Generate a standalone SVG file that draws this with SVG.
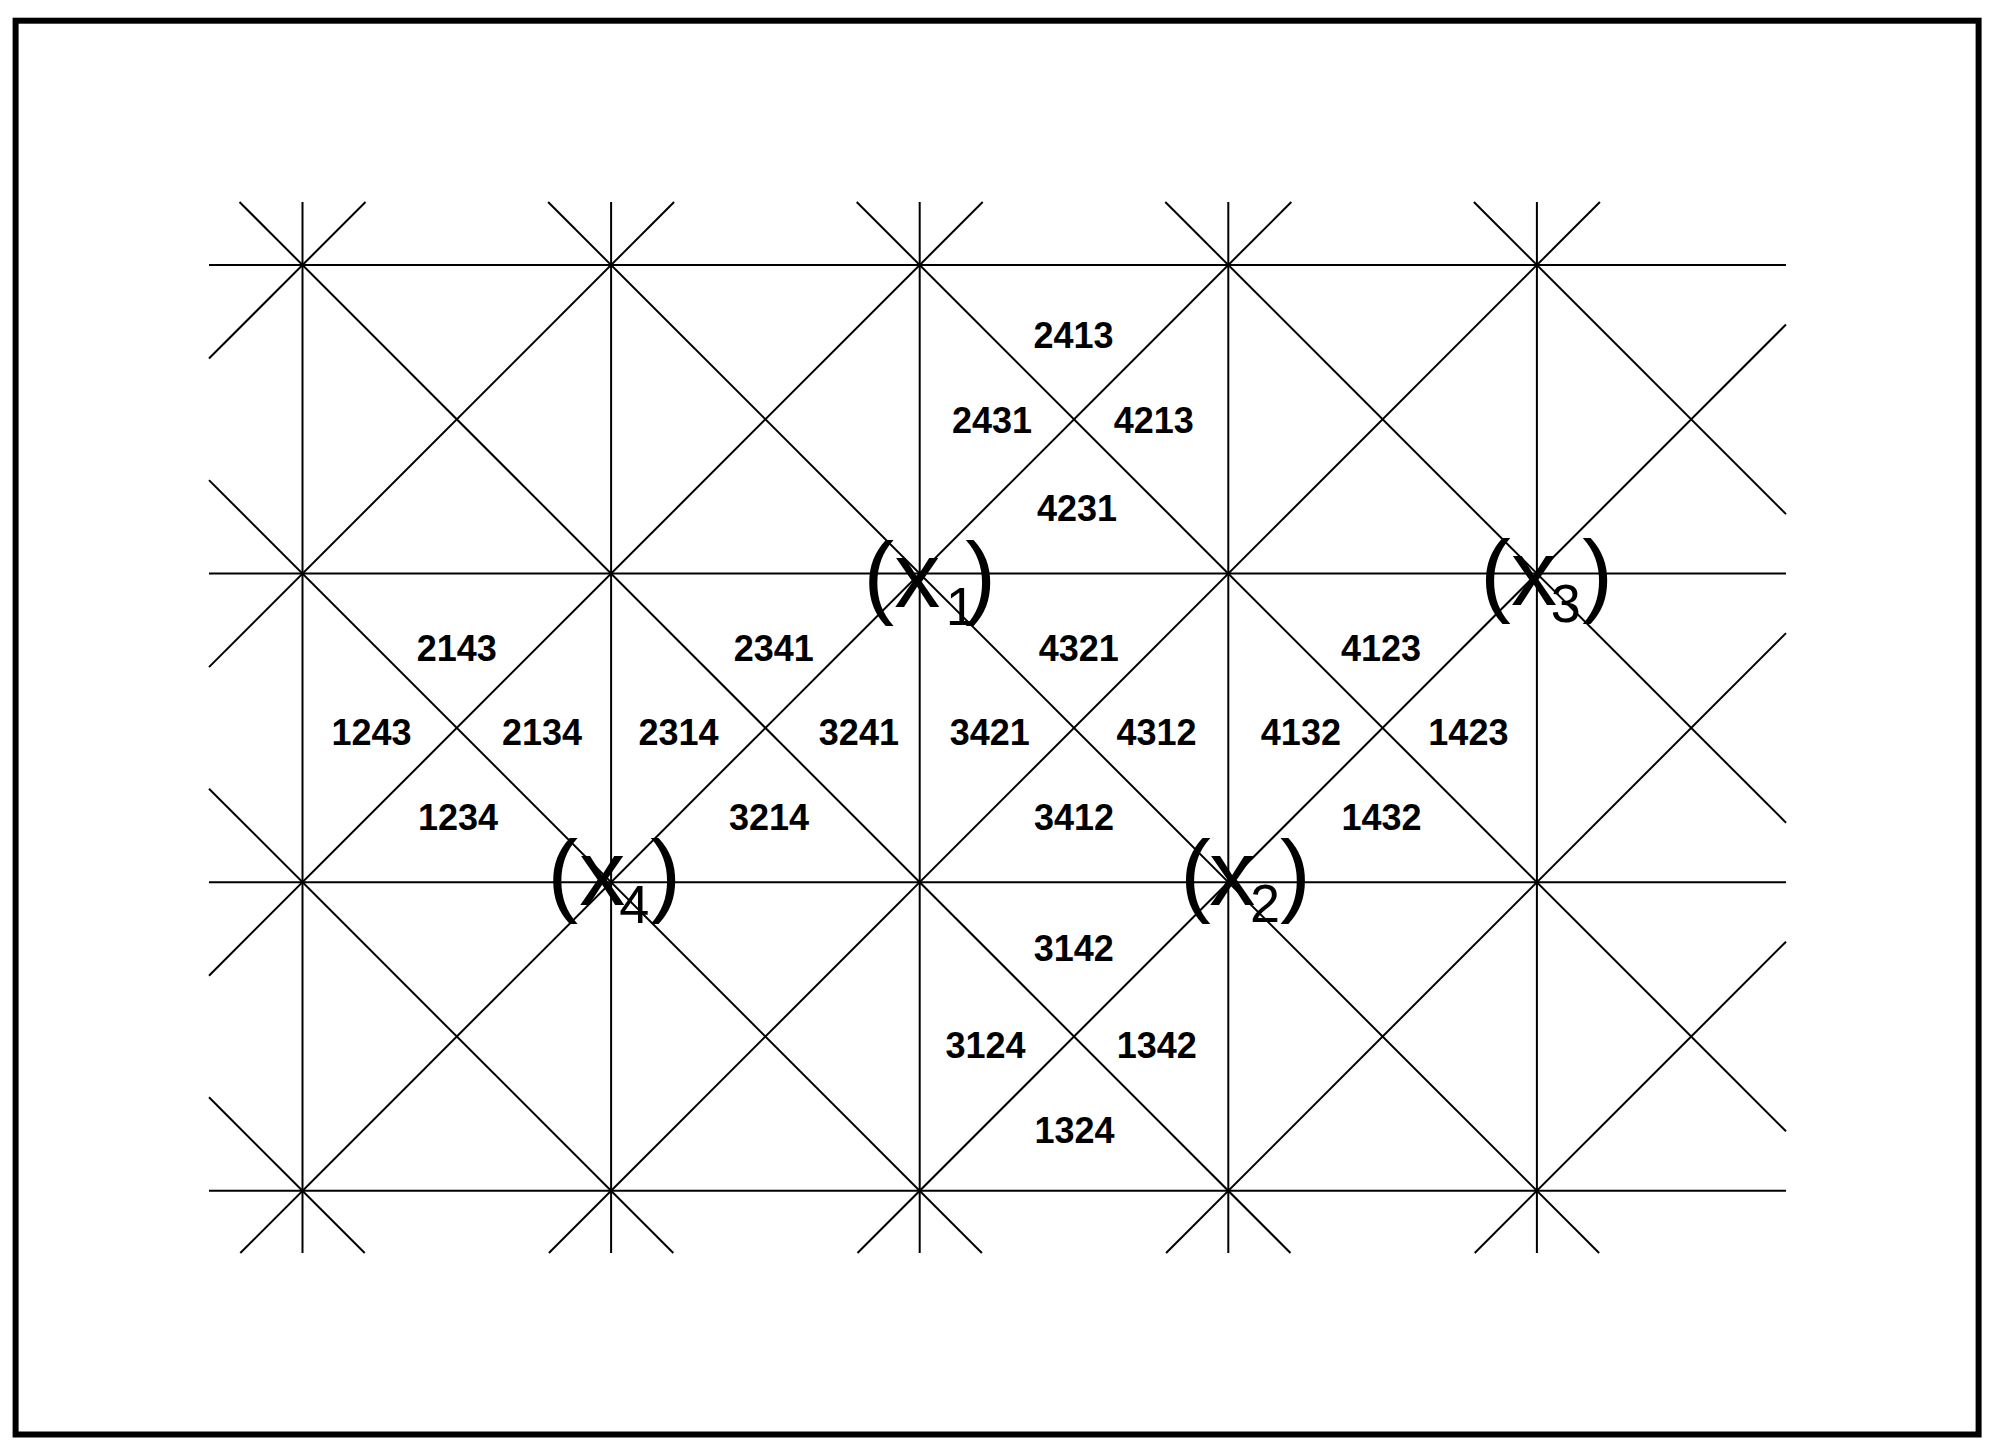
<svg xmlns="http://www.w3.org/2000/svg" width="1997" height="1456" viewBox="0 0 1997 1456">
<style>
.ln{stroke:#000;stroke-width:2;fill:none}
.lbl{font-family:"Liberation Sans",Arial,sans-serif;font-weight:bold;font-size:36px;text-anchor:middle;fill:#000}
.pt{font-family:"Liberation Sans",Arial,sans-serif;font-size:92px;fill:#000}
.sub{font-size:54px}
</style>
<rect x="0" y="0" width="1997" height="1456" fill="#fff"/>
<rect x="15.6" y="20.7" width="1963" height="1413.8" fill="none" stroke="#000" stroke-width="6"/>
<g id="connectors">
<line class="ln" x1="302.5" y1="202" x2="302.5" y2="1253"/>
<line class="ln" x1="611.1" y1="202" x2="611.1" y2="1253"/>
<line class="ln" x1="919.7" y1="202" x2="919.7" y2="1253"/>
<line class="ln" x1="1228.3" y1="202" x2="1228.3" y2="1253"/>
<line class="ln" x1="1536.9" y1="202" x2="1536.9" y2="1253"/>
<line class="ln" x1="209" y1="265" x2="1786" y2="265"/>
<line class="ln" x1="209" y1="573.6" x2="1786" y2="573.6"/>
<line class="ln" x1="209" y1="882.2" x2="1786" y2="882.2"/>
<line class="ln" x1="209" y1="1190.8" x2="1786" y2="1190.8"/>
<line class="ln" x1="209" y1="1097.3" x2="364.7" y2="1253"/>
<line class="ln" x1="209" y1="788.7" x2="673.3" y2="1253"/>
<line class="ln" x1="209" y1="480.1" x2="981.9" y2="1253"/>
<line class="ln" x1="239.5" y1="202" x2="1290.5" y2="1253"/>
<line class="ln" x1="548.1" y1="202" x2="1599.1" y2="1253"/>
<line class="ln" x1="856.7" y1="202" x2="1786" y2="1131.3"/>
<line class="ln" x1="1165.3" y1="202" x2="1786" y2="822.7"/>
<line class="ln" x1="1473.9" y1="202" x2="1786" y2="514.1"/>
<line class="ln" x1="209" y1="358.5" x2="365.5" y2="202"/>
<line class="ln" x1="209" y1="667.1" x2="674.1" y2="202"/>
<line class="ln" x1="209" y1="975.7" x2="982.7" y2="202"/>
<line class="ln" x1="240.3" y1="1253" x2="1291.3" y2="202"/>
<line class="ln" x1="548.9" y1="1253" x2="1599.9" y2="202"/>
<line class="ln" x1="857.5" y1="1253" x2="1786" y2="324.5"/>
<line class="ln" x1="1166.1" y1="1253" x2="1786" y2="633.1"/>
<line class="ln" x1="1474.7" y1="1253" x2="1786" y2="941.7"/>
</g>
<g id="labels">
<g id="n2413"><text class="lbl" x="1073.5" y="348">2413</text></g>
<g id="n2431"><text class="lbl" x="992" y="433">2431</text></g>
<g id="n4213"><text class="lbl" x="1153.7" y="433">4213</text></g>
<g id="n4231"><text class="lbl" x="1077" y="521">4231</text></g>
<g id="n2143"><text class="lbl" x="456.7" y="661">2143</text></g>
<g id="n1243"><text class="lbl" x="371.6" y="745">1243</text></g>
<g id="n2134"><text class="lbl" x="542" y="745">2134</text></g>
<g id="n1234"><text class="lbl" x="458" y="830">1234</text></g>
<g id="n2341"><text class="lbl" x="773.7" y="661">2341</text></g>
<g id="n2314"><text class="lbl" x="678.6" y="745">2314</text></g>
<g id="n3241"><text class="lbl" x="858.9" y="745">3241</text></g>
<g id="n3214"><text class="lbl" x="769" y="830">3214</text></g>
<g id="n4321"><text class="lbl" x="1078.7" y="661">4321</text></g>
<g id="n3421"><text class="lbl" x="989.7" y="745">3421</text></g>
<g id="n4312"><text class="lbl" x="1156.6" y="745">4312</text></g>
<g id="n3412"><text class="lbl" x="1074" y="830">3412</text></g>
<g id="n4123"><text class="lbl" x="1381" y="661">4123</text></g>
<g id="n4132"><text class="lbl" x="1300.9" y="745">4132</text></g>
<g id="n1423"><text class="lbl" x="1468.4" y="745">1423</text></g>
<g id="n1432"><text class="lbl" x="1381.6" y="830">1432</text></g>
<g id="n3142"><text class="lbl" x="1073.7" y="961">3142</text></g>
<g id="n3124"><text class="lbl" x="985.5" y="1058">3124</text></g>
<g id="n1342"><text class="lbl" x="1156.7" y="1058">1342</text></g>
<g id="n1324"><text class="lbl" x="1074.5" y="1143">1324</text></g>
</g>
<g id="points">
<g id="x1"><text class="pt"><tspan x="863.5" y="607">(</tspan><tspan x="894.3" y="607">x</tspan><tspan class="sub" x="945.8" y="625">1</tspan><tspan x="965.2" y="607">)</tspan></text></g>
<g id="x3"><text class="pt"><tspan x="1480.2" y="605">(</tspan><tspan x="1511" y="605">x</tspan><tspan class="sub" x="1550.8" y="622">3</tspan><tspan x="1582.2" y="605">)</tspan></text></g>
<g id="x4"><text class="pt"><tspan x="547.5" y="905">(</tspan><tspan x="579.3" y="905">x</tspan><tspan class="sub" x="619.2" y="923">4</tspan><tspan x="650.2" y="905">)</tspan></text></g>
<g id="x2"><text class="pt"><tspan x="1180.2" y="905">(</tspan><tspan x="1209.3" y="905">x</tspan><tspan class="sub" x="1250.1" y="922">2</tspan><tspan x="1279.9" y="905">)</tspan></text></g>
</g>
</svg>
